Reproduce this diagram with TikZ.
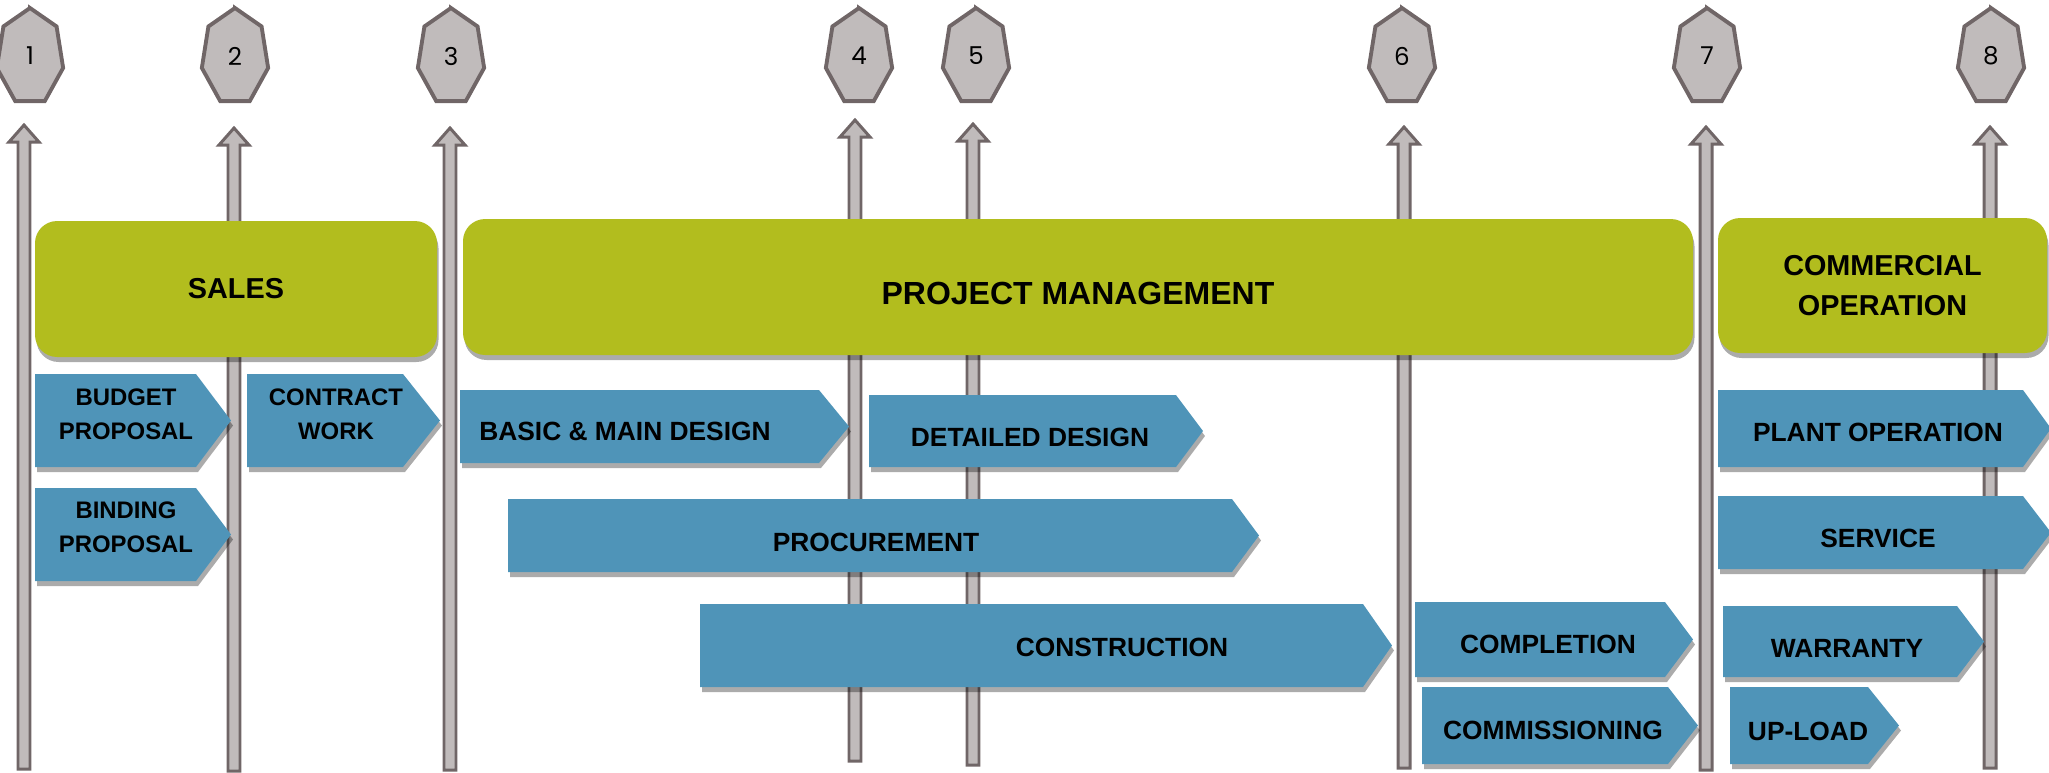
\documentclass[tikz,border=0pt]{standalone}
\usepackage{fontspec}
\setmainfont{Liberation Sans}
\newfontfamily\numfont{Poppins}

\definecolor{barfill}{RGB}{192,187,187}
\definecolor{barline}{RGB}{112,102,103}
\definecolor{phasegreen}{RGB}{178,189,30}
\definecolor{taskblue}{RGB}{79,148,184}

\begin{document}
\begin{tikzpicture}[x=0.1mm, y=-0.1mm,
  bar/.style={fill=barfill, draw=barline, line width=0.85pt},
  milestone/.style={fill=barfill, draw=barline, line width=1.1pt},
  phase/.style={fill=phasegreen, rounded corners=6.3pt},
  task/.style={fill=taskblue},
  drop/.style={fill=black, fill opacity=0.33},
  caption/.style={inner sep=0pt, align=center, text=black}]

\useasboundingbox (0,0) rectangle (2049,772);

% milestones
\foreach \n/\cx in {1/30, 2/235, 3/451, 4/859, 5/976, 6/1402, 7/1707, 8/1991}{
  \draw[milestone] plot[samples=8, domain=-90:270, variable=\a] ({\cx+34*cos(\a)},{57+49*sin(\a)}) -- cycle;
  \node[caption, font=\numfont\fontsize{7}{8}\selectfont] (m\n) at (\cx,56) {\n};
}

% gate arrows
\foreach \n/\x/\t/\b in {1/24/125/769, 2/234/128/771, 3/450/128/770, 4/855/120/761, 5/973/124/765, 6/1404/127/768, 7/1706/127/770, 8/1990/127/768}{
  \draw[bar] (\x-6,\b) -- (\x-6,\t+17) -- (\x-15,\t+17) -- (\x,\t)
    -- (\x+15,\t+17) -- (\x+6,\t+17) -- (\x+6,\b) -- cycle;
}

% phases
\foreach \n/\l/\t/\r/\b/\ty/\fs/\txt in {sales/35/221/437/357/289/8.2/SALES,
    pm/463/219/1693/355/293/9.1/PROJECT MANAGEMENT,
    commercial/1718/218/2047/353/286/8.2/{COMMERCIAL\\OPERATION}}{
  \fill[drop, rounded corners=6.3pt] (\l+1.5,\t+5) rectangle (\r+1.5,\b+5);
  \fill[phase] (\l,\t) rectangle (\r,\b);
  \node[caption, font=\bfseries\fontsize{\fs}{11.4}\selectfont] (\n) at ({(\l+\r)/2},\ty) {\txt};
}

% tasks
\foreach \n/\l/\t/\r/\p/\b/\tx/\ty/\fs/\txt in {
    budget/35/374/196/231/467/126/414/6.8/{BUDGET\\PROPOSAL},
    binding/35/488/196/231/581/126/527/6.8/{BINDING\\PROPOSAL},
    contract/247/374/403/440/467/336/414/6.8/{CONTRACT\\WORK},
    basic/460/390/819/849/463/625/431/7.5/{BASIC \& MAIN DESIGN},
    detailed/869/395/1176/1203/467/1030/437/7.5/DETAILED DESIGN,
    procurement/508/499/1232/1259/572/876/542/7.5/PROCUREMENT,
    construction/700/604/1363/1392/687/1122/647/7.5/CONSTRUCTION,
    completion/1415/602/1665/1693/677/1548/644/7.5/COMPLETION,
    commissioning/1422/687/1668/1698/764/1553/730/7.5/COMMISSIONING,
    plant/1718/390/2023/2051/467/1878/432/7.5/PLANT OPERATION,
    service/1718/496/2023/2051/569/1878/538/7.5/SERVICE,
    warranty/1723/606/1957/1984/677/1847/648/7.5/WARRANTY,
    upload/1730/687/1868/1899/764/1808/731/7.5/UP-LOAD}{
  \fill[drop] (\l+2,\t+5) -- (\r+2,\t+5) -- (\p+2,{(\t+\b)/2+5}) -- (\r+2,\b+5) -- (\l+2,\b+5) -- cycle;
  \fill[task] (\l,\t) -- (\r,\t) -- (\p,{(\t+\b)/2}) -- (\r,\b) -- (\l,\b) -- cycle;
  \node[caption, font=\bfseries\fontsize{\fs}{9.7}\selectfont] (\n) at (\tx,\ty) {\txt};
}

\end{tikzpicture}
\end{document}
